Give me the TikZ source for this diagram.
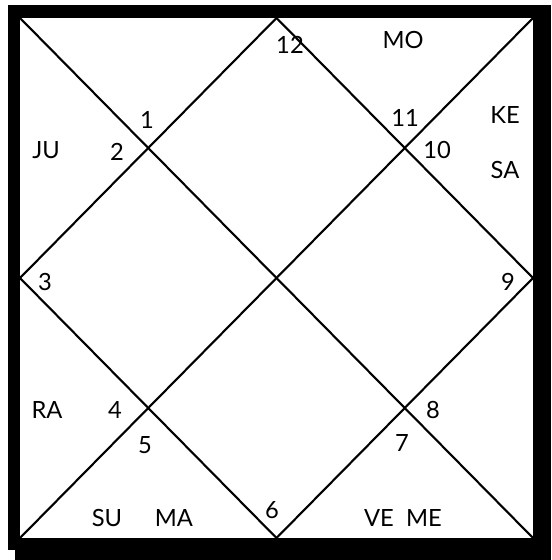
\documentclass[tikz,border=0pt]{standalone}
\usepackage{fontspec}
\setmainfont{Lato}
\usetikzlibrary{positioning}

\begin{document}
\begin{tikzpicture}[x=0.02cm,y=-0.02cm,
    chartline/.style={line width=1.2pt,line cap=round},
    house/.style={font=\fontsize{13.5}{16}\selectfont,inner sep=0pt},
    planet/.style={font=\fontsize{13.5}{16}\selectfont,inner sep=0pt}]
    % page and frame
    \useasboundingbox (0,0) rectangle (551,560);
    \fill[white] (0,0) rectangle (551,560);
    \fill[black] (8,5) rectangle (551,550);
    \fill[black] (15,538) rectangle (551,560);
    \fill[white] (20,18) rectangle (533,538);

    % corners and midpoints of the chart
    \coordinate (tl) at (20,18);
    \coordinate (tr) at (533,18);
    \coordinate (bl) at (20,538);
    \coordinate (br) at (533,538);
    \coordinate (tm) at (276.5,18);
    \coordinate (bm) at (276.5,538);
    \coordinate (lm) at (20,278);
    \coordinate (rm) at (533,278);

    \draw[chartline] (tl) -- (br);
    \draw[chartline] (tr) -- (bl);
    \draw[chartline] (tm) -- (rm) -- (bm) -- (lm) -- cycle;

    % house numbers
    \node[house] (h1)  at (147,120) {1};
    \node[house] (h2)  at (117,152) {2};
    \node[house] (h3)  at (45,282)  {3};
    \node[house] (h4)  at (115,410) {4};
    \node[house] (h5)  at (145,445) {5};
    \node[house] (h6)  at (272,510) {6};
    \node[house] (h7)  at (402,443) {7};
    \node[house] (h8)  at (433,410) {8};
    \node[house] (h9)  at (508,282) {9};
    \node[house] (h10) at (437,150) {10};
    \node[house] (h11) at (405,118) {11};
    \node[house] (h12) at (290,45)  {12};

    % planets
    \node[planet] (mo) at (403,40)  {MO};
    \node[planet] (ke) at (505,115) {KE};
    \node[planet] (sa) at (505,170) {SA};
    \node[planet] (ju) at (46,150)  {JU};
    \node[planet] (ra) at (47,410)  {RA};
    \node[planet] (su) at (107,518) {SU};
    \node[planet] (ma) at (174,518) {MA};
    \node[planet] (ve) at (379,518) {VE};
    \node[planet] (me) at (424,518) {ME};
\end{tikzpicture}
\end{document}
